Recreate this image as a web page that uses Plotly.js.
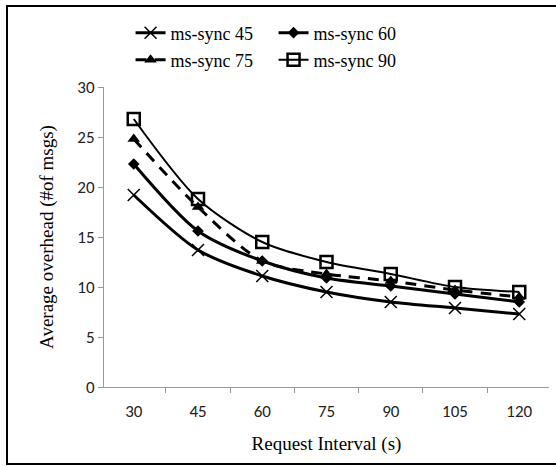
<!DOCTYPE html>
<html>
<head>
<meta charset="utf-8">
<script src="https://cdn.plot.ly/plotly-3.0.1.min.js"></script>
<style>html,body{margin:0;padding:0;background:#fff}#chart{width:556px;height:466px}</style>
</head>
<body>
<div id="chart"></div>
<script>
const categories = ["30", "45", "60", "75", "90", "105", "120"];
const sync45 = [19.2, 13.7, 11.1, 9.5, 8.5, 7.9, 7.3];
const sync60 = [22.3, 15.6, 12.6, 10.9, 10.1, 9.3, 8.5];
const sync75 = [24.8, 18.0, 12.6, 11.3, 10.6, 9.7, 9.0];
const sync90 = [26.8, 18.8, 14.5, 12.5, 11.3, 10.0, 9.5];
const yTicks = [0, 5, 10, 15, 20, 25, 30];

const traces = [
  {x: categories, y: sync45, name: "ms-sync 45", type: "scatter", mode: "lines+markers",
   line: {color: "#000", width: 3, shape: "spline", smoothing: 0.8},
   marker: {symbol: "x-thin", size: 12, color: "#000", line: {color: "#000", width: 1.5}}, legend: "legend"},
  {x: categories, y: sync60, name: "ms-sync 60", type: "scatter", mode: "lines+markers",
   line: {color: "#000", width: 3, shape: "spline", smoothing: 0.8},
   marker: {symbol: "diamond", size: 9, color: "#000"}, legend: "legend"},
  {x: categories, y: sync75, name: "ms-sync 75", type: "scatter", mode: "lines+markers",
   line: {color: "#000", width: 3, dash: "11px,8px", shape: "spline", smoothing: 0.8},
   marker: {symbol: "triangle-up", size: 11, color: "#000"}, legend: "legend2"},
  {x: categories, y: sync90, name: "ms-sync 90", type: "scatter", mode: "lines+markers",
   line: {color: "#000", width: 2, shape: "spline", smoothing: 0.8},
   marker: {symbol: "square-open", size: 12, color: "#000", line: {color: "#000", width: 2.5}}, legend: "legend2"}
];

const W = 445, H = 300, L = 104, T = 87;
const px = v => (v - L) / W;
const py = v => (T + H - v) / H;

const serif = "Times New Roman, Liberation Serif, serif";
const sans = "Calibri, Carlito, Liberation Sans, Arial, sans-serif";
const legendFont = {family: serif, size: 18, color: "#000"};
const legendCommon = {orientation: "h", xref: "container", yref: "container", x: 0.492,
  xanchor: "center", yanchor: "middle", font: legendFont, bgcolor: "rgba(0,0,0,0)",
  itemwidth: 30, entrywidth: 98, entrywidthmode: "pixels"};
const layout = {
  width: 556, height: 466,
  font: {family: serif, size: 17, color: "#000"},
  margin: {l: 104, r: 7, t: 87, b: 79},
  paper_bgcolor: "#fff", plot_bgcolor: "#fff",
  showlegend: true,
  legend: Object.assign({}, legendCommon, {y: 1 - 33/466}),
  legend2: Object.assign({}, legendCommon, {y: 1 - 60/466}),
  xaxis: {
    type: "category", categoryarray: categories,
    showgrid: false, showline: true, linecolor: "#999", linewidth: 1,
    ticks: "outside", tickson: "boundaries", ticklen: 5, tickcolor: "#999",
    ticklabelstandoff: 9,
    tickfont: {family: sans, size: 17, color: "#222"},
    title: {text: "Request Interval (s)", standoff: 15, font: {family: serif, size: 19, color: "#000"}},
    zeroline: false, fixedrange: true
  },
  yaxis: {
    range: [0, 30], tickvals: yTicks, ticktext: yTicks.map(String),
    showgrid: false, showline: true, linecolor: "#999", linewidth: 1,
    ticks: "outside", ticklen: 5, tickcolor: "#999",
    tickfont: {family: sans, size: 17, color: "#222"},
    title: {text: "Average overhead (#of msgs)", standoff: 18, font: {family: serif, size: 19, color: "#000"}},
    zeroline: false, fixedrange: true
  },
  shapes: [{type: "rect", xref: "paper", yref: "paper",
    x0: px(7), x1: px(560), y0: py(464), y1: py(6),
    line: {color: "#000", width: 2}, fillcolor: "rgba(0,0,0,0)", layer: "below"}]
};

Plotly.newPlot("chart", traces, layout, {staticPlot: true, displayModeBar: false});
</script>
</body>
</html>
